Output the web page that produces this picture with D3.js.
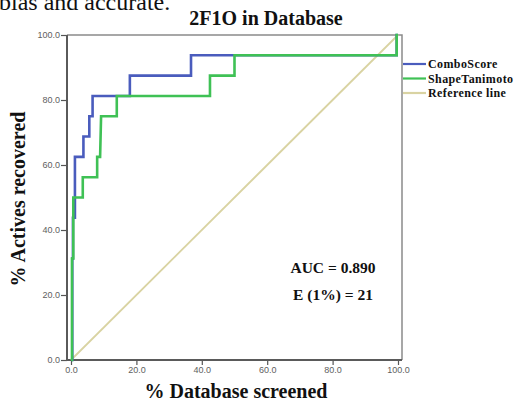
<!DOCTYPE html>
<html>
<head>
<meta charset="utf-8">
<script src="https://cdn.jsdelivr.net/npm/d3@7"></script>
<style>
  body { margin: 0; background: #fff; }
  svg { display: block; }
  .tick text { font-family: "Liberation Sans", Arial, sans-serif; font-size: 9px; fill: #5e5e5e; }
  .serif { font-family: "Liberation Serif", "Times New Roman", serif; }
</style>
</head>
<body>
<svg id="chart"></svg>
<script>
// data (percent screened, percent actives recovered)
var comboX = [0, 0.4, 0.4, 0.6, 0.6, 1.2, 1.2, 3.8, 3.8, 5.6, 5.6, 6.6, 6.6, 18.0, 18.0, 36.7, 36.7, 99.6, 99.6, 100];
var comboY = [0, 0, 31.25, 31.25, 43.75, 43.75, 62.5, 62.5, 68.75, 68.75, 75, 75, 81.25, 81.25, 87.5, 87.5, 93.75, 93.75, 100, 100];
var shapeX = [0, 0.3, 0.3, 0.7, 0.7, 3.6, 3.6, 8.0, 8.0, 8.9, 9.2, 14.0, 14.0, 42.5, 42.5, 50.0, 50.0, 99.6, 99.6, 100];
var shapeY = [0, 0, 31.25, 31.25, 50, 50, 56.25, 56.25, 62.5, 62.5, 75, 75, 81.25, 81.25, 87.5, 87.5, 93.75, 93.75, 100, 100];
var refX = [0, 100];
var refY = [0, 100];
var seriesNames = ["ComboScore", "ShapeTanimoto", "Reference line"];
var tickVals = [0, 20, 40, 60, 80, 100];
var notes = ["AUC = 0.890", "E (1%) = 21"];

var width = 515, height = 402;
var svg = d3.select("#chart").attr("width", width).attr("height", height);

var x = d3.scaleLinear().domain([0, 100]).range([71, 398]);
var y = d3.scaleLinear().domain([0, 100]).range([360, 35]);
var frame = {left: 67, right: 402, top: 35, bottom: 360};

var colors = d3.scaleOrdinal().domain(seriesNames).range(["#4a5cbd", "#3fc155", "#d9d3a2"]);

// text cut off from the page above
svg.append("text").attr("class", "serif")
    .attr("x", -1).attr("y", 10)
    .style("font-size", "24px").style("fill", "#111")
    .text("bias and accurate.");

// title
svg.append("text").attr("class", "serif")
    .attr("x", 266).attr("y", 25)
    .attr("text-anchor", "middle")
    .style("font-size", "20px").style("font-weight", "bold").style("fill", "#111")
    .text("2F1O in Database");

// frame top/right
svg.append("path")
    .attr("d", "M" + frame.left + "," + frame.top + "H" + frame.right + "V" + frame.bottom)
    .attr("fill", "none").attr("stroke", "#8a8a8a").attr("stroke-width", 1.5);

// axes
var yAxis = d3.axisLeft(y).tickValues(tickVals).tickFormat(d3.format(".1f")).tickSize(6).tickPadding(1);
var xAxis = d3.axisBottom(x).tickValues(tickVals).tickFormat(d3.format(".1f")).tickSize(5).tickPadding(2);

var gy = svg.append("g").attr("transform", "translate(" + frame.left + ",0)").call(yAxis);
gy.select(".domain").remove();
gy.selectAll(".tick line").attr("stroke", "#555").attr("stroke-width", 1.2);

var gx = svg.append("g").attr("transform", "translate(0," + frame.bottom + ")").call(xAxis);
gx.select(".domain").remove();
gx.selectAll(".tick line").attr("stroke", "#555").attr("stroke-width", 1.2);

svg.append("path")
    .attr("d", "M" + frame.left + "," + frame.top + "V" + frame.bottom + "H" + frame.right)
    .attr("fill", "none").attr("stroke", "#5a5a5a").attr("stroke-width", 2);

// curves
var line = d3.line().x(function(d) { return x(d[0]); }).y(function(d) { return y(d[1]); });
var series = [
    {name: "Reference line", pts: d3.zip(refX, refY), w: 1.8},
    {name: "ComboScore", pts: d3.zip(comboX, comboY), w: 2.6},
    {name: "ShapeTanimoto", pts: d3.zip(shapeX, shapeY), w: 2.6}
];
svg.selectAll(".curve")
    .data(series)
    .enter().append("path")
    .attr("class", "curve")
    .attr("d", function(d) { return line(d.pts); })
    .attr("fill", "none")
    .attr("stroke", function(d) { return colors(d.name); })
    .attr("stroke-width", function(d) { return d.w; });

// annotations
svg.selectAll(".note")
    .data(notes)
    .enter().append("text")
    .attr("class", "serif note")
    .attr("x", 333)
    .attr("y", function(d, i) { return 273 + i * 27; })
    .attr("text-anchor", "middle")
    .style("font-size", "15.5px").style("font-weight", "bold").style("fill", "#111")
    .text(function(d) { return d; });

// axis labels
svg.append("text").attr("class", "serif")
    .attr("x", 236).attr("y", 398)
    .attr("text-anchor", "middle")
    .style("font-size", "20px").style("font-weight", "bold").style("fill", "#111")
    .text("% Database screened");

svg.append("text").attr("class", "serif")
    .attr("transform", "translate(25,199) rotate(-90)")
    .attr("text-anchor", "middle")
    .style("font-size", "20px").style("font-weight", "bold").style("fill", "#111")
    .text("% Actives recovered");

// legend
var legend = svg.append("g").attr("class", "legend");
legend.selectAll("line")
    .data(seriesNames)
    .enter().append("line")
    .attr("x1", 403).attr("x2", 426)
    .attr("y1", function(d, i) { return 64 + i * 14.5; })
    .attr("y2", function(d, i) { return 64 + i * 14.5; })
    .attr("stroke", function(d) { return colors(d); })
    .attr("stroke-width", 2.2);
legend.selectAll("text")
    .data(seriesNames)
    .enter().append("text")
    .attr("class", "serif")
    .attr("x", 428)
    .attr("y", function(d, i) { return 68 + i * 14.5; })
    .style("font-size", "12px").style("font-weight", "bold").style("fill", "#111")
    .style("letter-spacing", "0.4px")
    .text(function(d) { return d; });
</script>
</body>
</html>
